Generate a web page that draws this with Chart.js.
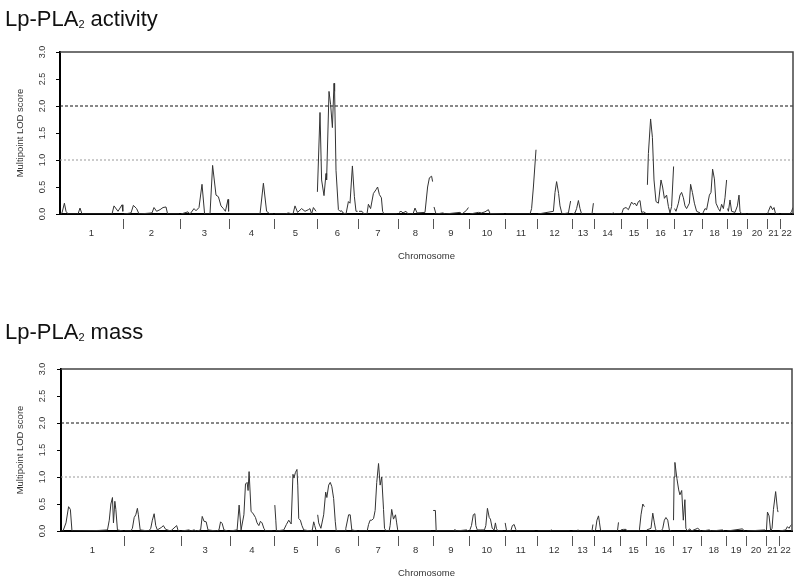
<!DOCTYPE html>
<html>
<head>
<meta charset="utf-8">
<script src="https://cdn.jsdelivr.net/npm/chart.js@4.4.1/dist/chart.umd.min.js"></script>
<style>
  html, body { margin: 0; padding: 0; background: #fff; }
  canvas { position: absolute; left: 0; }
  #actCanvas { top: 0; }
  #massCanvas { top: 290px; }
</style>
</head>
<body>
<canvas id="actCanvas" width="800" height="290"></canvas>
<canvas id="massCanvas" width="800" height="290"></canvas>
<script>
// chromosome names and map lengths (cM)
const chromosomes = ['1','2','3','4','5','6','7','8','9','10','11','12','13','14','15','16','17','18','19','20','21','22']
const chromLengths = [315, 285, 245, 225, 215, 205, 200, 175, 180, 180, 160, 175, 110, 135, 130, 135, 140, 125, 100, 100, 65, 65]
const lodTicks = [0, 0.5, 1, 1.5, 2, 2.5, 3]
const thresholds = [2.0, 1.0]
const panelTitles = [['Lp-PLA', '2', ' activity'], ['Lp-PLA', '2', ' mass']]

// multipoint LOD, [genome position cM, LOD]
const activity = [
  [3,0],[10,0.02],[22,0.2],[30,0.05],[40,0],[90,0],[100,0.11],[110,0],[260,0],[270,0.15],[290,0.05],[310,0.17],[314,0.05],
  [320,0],[355,0.02],[367,0.16],[383,0.1],[395,0],[460,0.02],[470,0.12],[483,0.05],[500,0.08],[515,0.12],[530,0.13],[538,0],[595,0],
  [605,0],[640,0.04],[650,0],[670,0.1],[680,0.06],[695,0.12],[710,0.55],[723,0],[750,0],[763,0.9],[780,0.35],[792,0.32],[805,0.15],[817,0.1],[827,0.05],[840,0.27],[843,0.05],
  [850,0],[1000,0],[1017,0.57],[1033,0.05],[1050,0],[1065,0],
  [1075,0],[1130,0],[1140,0.02],[1165,0],[1175,0.15],[1188,0.03],[1208,0.1],[1225,0.05],[1242,0.08],[1250,0.1],[1258,0],[1267,0.12],[1280,0.05],
  [1287,0.41],[1300,1.88],[1308,0.63],[1320,0.34],[1330,0.75],[1333,0.63],[1345,2.27],[1353,2.03],[1362,1.6],[1370,2.42],[1373,2.27],[1380,0.81],[1392,0.08],[1400,0.05],[1408,0.06],[1415,0.02],[1430,0],[1442,0.23],[1450,0.2],[1462,0.89],[1472,0.32],[1480,0.05],[1488,0.05],
  [1495,0.05],[1510,0.05],[1520,0],[1535,0],[1542,0.18],[1553,0.1],[1567,0.38],[1580,0.45],[1588,0.5],[1597,0.36],[1607,0.3],[1613,0.05],[1620,0],[1685,0],
  [1695,0.03],[1705,0.05],[1715,0.02],[1730,0.05],[1740,0],[1765,0],[1775,0.11],[1785,0.02],[1825,0.03],[1838,0.5],[1847,0.67],[1858,0.7],[1863,0.6],
  [1870,0.13],[1880,0],[1915,0.02],[1925,0],[2000,0.03],[2010,0],[2033,0.07],[2042,0.12],
  [2050,0],[2092,0.03],[2108,0.02],[2125,0.04],[2142,0.08],[2150,0.01],[2220,0],
  [2230,0],[2350,0],[2358,0.1],[2367,0.5],[2380,1.19],
  [2390,0],[2467,0.05],[2475,0.4],[2483,0.6],[2493,0.38],[2500,0.15],[2510,0],[2542,0.02],[2553,0.24],
  [2562,0],[2575,0.02],[2583,0.1],[2592,0.25],[2600,0.1],[2608,0],[2660,0],[2667,0.2],
  [2675,0],[2755,0],[2767,0.02],[2775,0],[2800,0],
  [2810,0.02],[2817,0.1],[2830,0.12],[2842,0.08],[2858,0.22],[2867,0.18],[2875,0.2],[2883,0.15],[2892,0.23],[2900,0.25],[2908,0.03],[2917,0.04],[2928,0.02],
  [2937,0.54],[2942,1.12],[2953,1.76],[2962,1.42],[2970,0.63],[2980,0.23],[2992,0.2],[3005,0.63],[3013,0.5],[3022,0.29],[3033,0.35],[3042,0.14],[3050,0.02],[3058,0.14],[3068,0.88],
  [3073,0.1],[3080,0.05],[3092,0.2],[3100,0.35],[3108,0.4],[3117,0.3],[3125,0.15],[3133,0.1],[3147,0.2],[3153,0.55],[3162,0.4],[3172,0.2],[3183,0.05],[3200,0.02],
  [3215,0.02],[3225,0.1],[3233,0.08],[3247,0.35],[3255,0.4],[3263,0.83],[3272,0.65],[3280,0.2],[3292,0.1],[3300,0.05],[3308,0.18],[3317,0.1],[3325,0.3],[3333,0.63],
  [3338,0.1],[3342,0.05],[3350,0.26],[3358,0.05],[3375,0.03],[3387,0.15],[3395,0.35],[3400,0.05],[3408,0],[3430,0],
  [3440,0],[3530,0],
  [3538,0],[3542,0.05],[3553,0.15],[3563,0.08],[3570,0.12],[3578,0],[3595,0],
  [3605,0],[3650,0],[3658,0.05],[3665,0.12]
]

const mass = [
  [2,0],[10,0],[25,0.15],[38,0.45],[47,0.4],[55,0],[190,0.01],[233,0.02],[242,0.2],[250,0.5],[258,0.62],[263,0.15],[270,0.55],[275,0.4],[283,0.02],[310,0],
  [320,0],[350,0],[358,0.05],[367,0.25],[375,0.3],[383,0.42],[388,0.3],[397,0.02],[440,0],[450,0.05],[458,0.2],[467,0.32],[475,0.1],[483,0.02],[505,0.07],[513,0.1],[525,0.03],[550,0],[580,0.1],[587,0.01],[595,0],
  [605,0],[642,0.02],[650,0],[667,0.02],[680,0],[700,0.02],[708,0.27],[717,0.18],[728,0.17],[737,0.02],[780,0],[792,0.02],[800,0.17],[808,0.14],[817,0.02],[835,0],
  [847,0],[883,0.02],[893,0.48],[903,0.02],[917,0.3],[925,0.87],[933,0.9],[938,0.75],[943,1.1],[953,0.36],[962,0.33],[975,0.25],[983,0.15],[992,0.1],[1000,0.18],[1008,0.15],[1017,0.05],[1025,0],[1060,0],
  [1072,0.48],[1077,0.2],[1080,0],[1117,0.02],[1130,0.12],[1142,0.2],[1154,0.13],[1163,1.05],[1168,0.98],[1175,1.08],[1183,1.14],[1187,0.85],[1192,0.23],[1200,0.2],[1208,0.1],[1217,0.02],[1250,0],[1260,0.02],[1267,0.17],[1272,0.1],[1278,0.02],
  [1287,0.3],[1292,0.15],[1303,0.05],[1317,0.3],[1327,0.72],[1333,0.62],[1342,0.85],[1350,0.9],[1358,0.82],[1367,0.6],[1375,0.18],[1380,0],[1425,0],[1428,0.05],[1442,0.3],[1450,0.3],[1458,0.02],[1485,0],
  [1495,0],[1535,0],[1542,0.12],[1550,0.2],[1558,0.2],[1567,0.23],[1575,0.38],[1583,0.9],[1592,1.25],[1600,0.85],[1608,1.0],[1617,0.4],[1622,0.05],[1630,0],[1645,0],[1650,0.1],[1658,0.4],[1667,0.22],[1677,0.3],[1683,0.15],[1688,0.02],
  [1695,0],[1855,0],
  [1866,0.38],[1877,0.38],[1881,0],[1970,0],[1975,0.03],[1980,0],[2033,0.02],[2040,0],
  [2050,0.02],[2058,0.1],[2067,0.3],[2075,0.32],[2080,0.1],[2087,0.02],[2105,0.02],[2123,0.02],[2130,0.1],[2138,0.42],[2147,0.25],[2153,0.22],[2162,0.05],[2172,0.02],[2178,0.15],[2183,0.05],[2190,0],[2215,0],
  [2227,0.15],[2233,0.02],[2240,0],[2255,0],[2263,0.1],[2272,0.12],[2280,0.03],[2287,0],[2375,0],
  [2390,0],[2450,0],[2458,0.02],[2465,0],[2550,0],
  [2565,0],[2585,0],[2592,0.02],[2600,0],[2662,0],[2667,0.12],
  [2672,0],[2680,0.02],[2687,0.2],[2695,0.28],[2700,0.15],[2705,0.02],[2715,0],[2790,0],[2795,0.16],
  [2807,0.02],[2820,0.03],[2833,0.03],[2840,0],[2895,0],[2900,0.02],[2908,0.3],[2917,0.5],[2925,0.45],
  [2937,0.02],[2958,0.05],[2967,0.33],[2975,0.15],[2980,0.05],[2985,0],[3010,0],[3017,0.05],[3025,0.2],[3033,0.25],[3042,0.2],[3050,0.02],[3060,0],
  [3071,0.2],[3074,1.0],[3078,1.27],[3088,0.97],[3097,0.76],[3103,0.67],[3112,0.75],[3120,0.2],[3128,0.58],[3133,0.05],[3140,0],[3153,0.04],[3160,0],[3192,0.05],[3200,0.03],[3205,0],
  [3215,0],[3250,0.02],[3260,0],[3317,0.02],[3325,0],
  [3340,0],[3417,0.04],[3425,0],
  [3440,0],[3530,0.02],
  [3537,0.02],[3542,0.35],[3550,0.28],[3558,0],[3565,0.05],[3572,0.4],[3583,0.73],[3592,0.4],[3595,0.35],
  [3603,0],[3633,0.02],[3642,0.08],[3650,0.05],[3658,0.1],[3663,0.12]
]

const chromStarts = [0]
chromLengths.forEach((len, i) => chromStarts.push(chromStarts[i] + len))
const genomeEnd = chromStarts[chromStarts.length - 1]

function chromOf(pos) {
  for (let i = 0; i < chromLengths.length; i++) {
    if (pos < chromStarts[i + 1]) return i
  }
  return chromLengths.length - 1
}

// one segment per chromosome: a null point breaks the line
function toSegments(trace) {
  const out = []
  let prev = -1
  trace.forEach(([x, y]) => {
    const c = chromOf(x)
    if (prev >= 0 && c !== prev) out.push({ x: chromStarts[c], y: null })
    out.push({ x, y })
    prev = c
  })
  return out
}

const FONT = '"Liberation Sans", Arial, sans-serif'

const panelDecor = {
  id: 'panelDecor',
  afterDraw(chart, args, opts) {
    const { ctx, chartArea: a, scales: { x, y } } = chart
    ctx.save()

    // frame top / right
    ctx.strokeStyle = '#444'
    ctx.lineWidth = 1.5
    ctx.beginPath()
    ctx.moveTo(a.left, a.top)
    ctx.lineTo(a.right, a.top)
    ctx.lineTo(a.right, a.bottom)
    ctx.stroke()

    // rotated y tick labels
    ctx.fillStyle = '#333'
    ctx.font = '9px ' + FONT
    ctx.textAlign = 'center'
    ctx.textBaseline = 'middle'
    lodTicks.forEach(v => {
      ctx.save()
      ctx.translate(43, y.getPixelForValue(v))
      ctx.rotate(-Math.PI / 2)
      ctx.fillText(v.toFixed(1), 0, 0)
      ctx.restore()
    })

    // chromosome boundaries + names
    ctx.strokeStyle = '#555'
    ctx.lineWidth = 1
    for (let i = 1; i < chromLengths.length; i++) {
      const px = Math.round(x.getPixelForValue(chromStarts[i])) + 0.5
      ctx.beginPath()
      ctx.moveTo(px, a.bottom + opts.tickTop)
      ctx.lineTo(px, a.bottom + opts.tickBottom)
      ctx.stroke()
    }
    ctx.font = '9.5px ' + FONT
    chromosomes.forEach((name, i) => {
      const mid = (chromStarts[i] + chromStarts[i + 1]) / 2
      ctx.fillText(name, x.getPixelForValue(mid), a.bottom + opts.labelOffset)
    })

    // panel title with subscript
    const [main, sub, rest] = opts.title
    ctx.fillStyle = '#111'
    ctx.textAlign = 'left'
    ctx.textBaseline = 'alphabetic'
    ctx.font = '22px ' + FONT
    let tx = 5
    ctx.fillText(main, tx, opts.titleY)
    tx += ctx.measureText(main).width
    ctx.font = '11px ' + FONT
    ctx.fillText(sub, tx, opts.titleY + 1.5)
    tx += ctx.measureText(sub).width
    ctx.font = '22px ' + FONT
    ctx.fillText(rest, tx, opts.titleY)

    ctx.restore()
  }
}

function makePanel(canvasId, trace, title, g) {
  const ctx = document.getElementById(canvasId).getContext('2d')
  return new Chart(ctx, {
    type: 'line',
    data: {
      datasets: [
        {
          data: toSegments(trace),
          borderColor: '#333',
          borderWidth: 1,
          pointRadius: 0,
          tension: 0,
          spanGaps: false,
          fill: false
        },
        {
          data: [{ x: 0, y: thresholds[0] }, { x: genomeEnd, y: thresholds[0] }],
          borderColor: '#111',
          borderWidth: 1,
          borderDash: [3, 2],
          pointRadius: 0
        },
        {
          data: [{ x: 0, y: thresholds[1] }, { x: genomeEnd, y: thresholds[1] }],
          borderColor: '#999',
          borderWidth: 1,
          borderDash: [2, 2],
          pointRadius: 0
        }
      ]
    },
    options: {
      responsive: false,
      animation: false,
      devicePixelRatio: 1,
      layout: { padding: { left: 0, right: 800 - g.right, top: g.top, bottom: 0 } },
      scales: {
        x: {
          type: 'linear',
          min: 0,
          max: genomeEnd,
          ticks: { display: false },
          grid: { display: false },
          border: { display: true, color: '#000', width: 2 },
          title: {
            display: true,
            text: 'Chromosome',
            color: '#333',
            font: { family: FONT, size: 9.5 },
            padding: { top: 0, bottom: g.xTitlePad }
          },
          afterFit: axis => { axis.height = 290 - g.bottom }
        },
        y: {
          min: 0,
          max: 3,
          ticks: { display: false, stepSize: 0.5 },
          grid: { drawOnChartArea: false, drawTicks: true, tickLength: 4, color: '#000' },
          border: { display: true, color: '#000', width: 2 },
          title: {
            display: true,
            text: 'Multipoint LOD score',
            color: '#333',
            font: { family: FONT, size: 9.5 },
            padding: { top: 15, bottom: 0 }
          },
          afterFit: axis => { axis.width = g.left }
        }
      },
      plugins: {
        legend: { display: false },
        tooltip: { enabled: false },
        panelDecor: {
          title,
          titleY: g.titleY,
          tickTop: 5,
          tickBottom: 15,
          labelOffset: 19.5
        }
      }
    },
    plugins: [panelDecor]
  })
}

makePanel('actCanvas', activity, panelTitles[0], { left: 60, right: 793, top: 52, bottom: 214, titleY: 26, xTitlePad: 28.3 })
makePanel('massCanvas', mass, panelTitles[1], { left: 61, right: 792, top: 79, bottom: 241, titleY: 49, xTitlePad: 0.5 })
</script>
</body>
</html>
